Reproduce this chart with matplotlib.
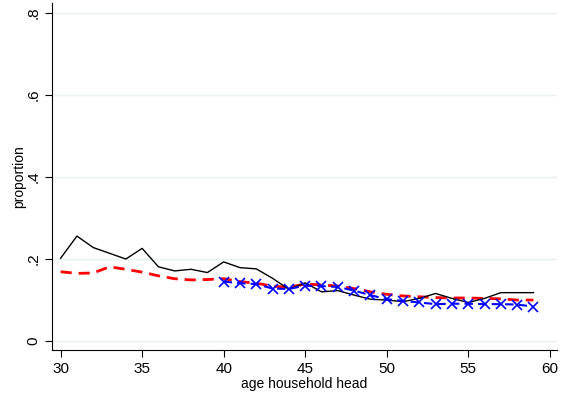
import numpy as np
import matplotlib
matplotlib.use('Agg')
import matplotlib.pyplot as plt

plt.rcParams['font.family'] = ['Liberation Sans', 'DejaVu Sans']

# age of household head
ages = list(range(30, 60))
black_line = [0.202, 0.256, 0.228, 0.214, 0.200, 0.226, 0.181, 0.171, 0.175, 0.167,
              0.193, 0.179, 0.176, 0.153, 0.126, 0.142, 0.120, 0.123, 0.112, 0.102,
              0.100, 0.096, 0.104, 0.116, 0.104, 0.094, 0.104, 0.118, 0.118, 0.118]
red_dashed = [0.169, 0.165, 0.166, 0.181, 0.175, 0.168, 0.159, 0.152, 0.149, 0.150,
              0.152, 0.145, 0.141, 0.134, 0.131, 0.139, 0.137, 0.134, 0.128, 0.120,
              0.114, 0.110, 0.108, 0.106, 0.105, 0.105, 0.104, 0.103, 0.100, 0.100]

blue_ages = list(range(40, 60))
blue_x = [0.145, 0.141, 0.139, 0.128, 0.127, 0.135, 0.134, 0.132, 0.123, 0.112,
          0.102, 0.098, 0.094, 0.090, 0.091, 0.091, 0.090, 0.090, 0.089, 0.084]

xticks = [30, 35, 40, 45, 50, 55, 60]
yticks = [0, 0.2, 0.4, 0.6, 0.8]
ytick_labels = ['0', '.2', '.4', '.6', '.8']

fig = plt.figure(figsize=(5.65, 3.96), dpi=100)
ax = fig.add_axes([0.092, 0.116, 0.894, 0.876])

for y in yticks:
    ax.axhline(y, color='#eaf2f3', linewidth=1, zorder=0)

ax.plot(ages, black_line, color='black', linewidth=1.0, zorder=3)
ax.plot(ages, red_dashed, color='red', linewidth=2.0, linestyle=(0, (4, 2.5)), zorder=2)
ax.plot(blue_ages, blue_x, color='blue', linewidth=1.5, linestyle=(0, (4, 2.5)),
        marker='x', markersize=6.5, markeredgewidth=1.2, zorder=4)

ax.set_xlim(29.47, 60.45)
ax.set_ylim(-0.022, 0.824)
ax.set_xticks(xticks)
ax.set_yticks(yticks)
ax.set_yticklabels(ytick_labels, rotation=90, va='center')
ax.tick_params(axis='both', labelsize=11, length=5, width=0.8)
ax.set_xlabel('age household head', fontsize=10, labelpad=1)
ax.set_ylabel('proportion', fontsize=10)
ax.yaxis.set_label_coords(-0.052, 0.5)

ax.spines['top'].set_visible(False)
ax.spines['right'].set_visible(False)

plt.savefig('out.png', dpi=100)
